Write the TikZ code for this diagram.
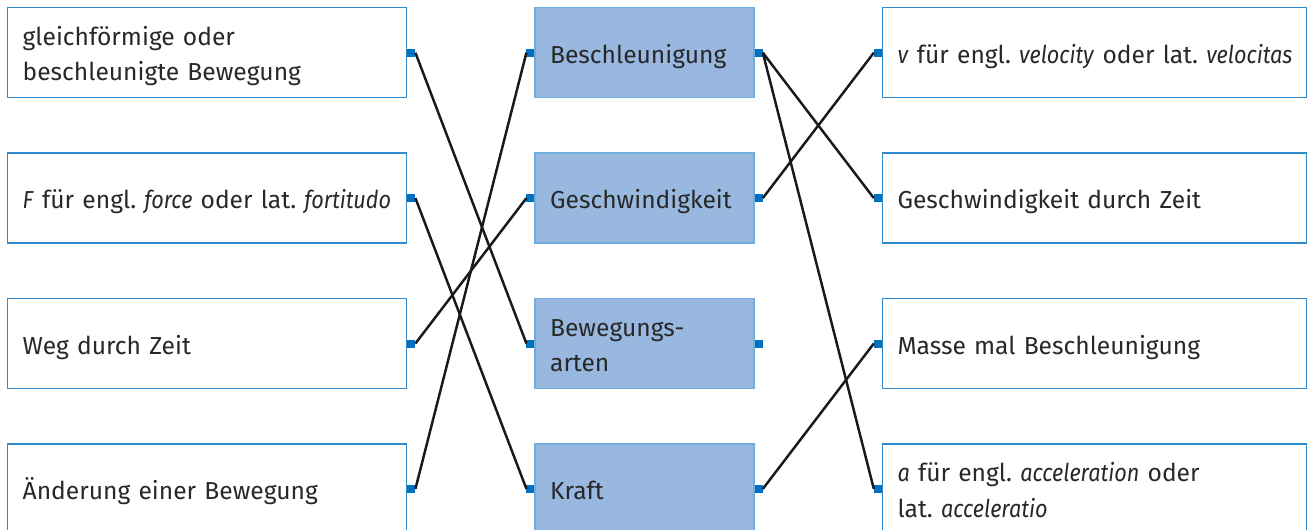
\documentclass[tikz,border=0pt]{standalone}
\usepackage{fontspec}
\setmainfont{Fira Sans}[ItalicFeatures={FakeStretch=0.88}]
\usetikzlibrary{positioning}

\definecolor{boxline}{RGB}{46,139,208}
\definecolor{boxfill}{RGB}{152,184,224}
\definecolor{portblue}{RGB}{0,112,192}
\definecolor{textgrey}{RGB}{40,40,40}

\newcommand\cardfont{\fontsize{14}{20}\selectfont\frenchspacing\hyphenpenalty=10000\relax}
\newcommand\cardbegin{\rule{0pt}{17pt}}
\newcommand\cardend{\rule[-5pt]{0pt}{5pt}}

\begin{document}
\begin{tikzpicture}[
    node distance=1.08cm and 2.54cm,
    card/.style={
      draw=boxline, line width=0.8pt, rectangle, align=left,
      minimum height=1.8cm, inner xsep=0.3cm, text=textgrey,
      font=\cardfont, execute at begin node=\cardbegin,
      execute at end node=\cardend
    },
    leftbox/.style={card, fill=white, text width=7.38cm},
    midbox/.style={card, fill=boxfill, draw=boxline!70, text width=3.78cm},
    rightbox/.style={card, fill=white, text width=7.88cm},
    port/.style={fill=portblue, minimum size=0.16cm, inner sep=0pt, outer sep=0pt},
    link/.style={line width=1.4pt, draw=black!90}
]
    \useasboundingbox (0,0) rectangle (26.24,-10.6);

    % left column
    \node[leftbox, anchor=north west] (Form) at (0.14,-0.14) {gleichförmige oder\\beschleunigte Bewegung};
    \node[leftbox, below=of Form] (Symf) {\mbox{\textit{F} für engl. \textit{force} oder lat. \textit{fortitudo}}};
    \node[leftbox, below=of Symf] (WegZeit) {Weg durch Zeit};
    \node[leftbox, below=of WegZeit] (Aender) {Änderung einer Bewegung};

    % middle column
    \node[midbox, right=of Form] (Beschl) {Beschleunigung};
    \node[midbox, right=of Symf] (Geschw) {Geschwindigkeit};
    \node[midbox, right=of WegZeit] (Arten) {Bewegungs-\\arten};
    \node[midbox, right=of Aender] (Kraft) {Kraft};

    % right column
    \node[rightbox, right=of Beschl] (Symv) {\mbox{\textit{v} für engl. \textit{velocity} oder lat. \textit{velocitas}}};
    \node[rightbox, right=of Geschw] (GeschZeit) {Geschwindigkeit durch Zeit};
    \node[rightbox, right=of Arten] (MasseBeschl) {Masse mal Beschleunigung};
    \node[rightbox, right=of Kraft] (Syma) {\textit{a} für engl. \textit{acceleration} oder\\lat. \textit{acceleratio}};

    % ports
    \foreach \n in {Form,Symf,WegZeit,Aender,Beschl,Geschw,Arten,Kraft}
      \node[port, anchor=west] (\n-out) at (\n.east) {};
    \foreach \n in {Beschl,Geschw,Arten,Kraft,Symv,GeschZeit,MasseBeschl,Syma}
      \node[port, anchor=east] (\n-in) at (\n.west) {};

    % connections
    \draw[link] (Form-out.east) -- (Arten-in.west);
    \draw[link] (Symf-out.east) -- (Kraft-in.west);
    \draw[link] (WegZeit-out.east) -- (Geschw-in.west);
    \draw[link] (Aender-out.east) -- (Beschl-in.west);
    \draw[link] (Beschl-out.east) -- (GeschZeit-in.west);
    \draw[link] (Beschl-out.east) -- (Syma-in.west);
    \draw[link] (Geschw-out.east) -- (Symv-in.west);
    \draw[link] (Kraft-out.east) -- (MasseBeschl-in.west);
\end{tikzpicture}
\end{document}
